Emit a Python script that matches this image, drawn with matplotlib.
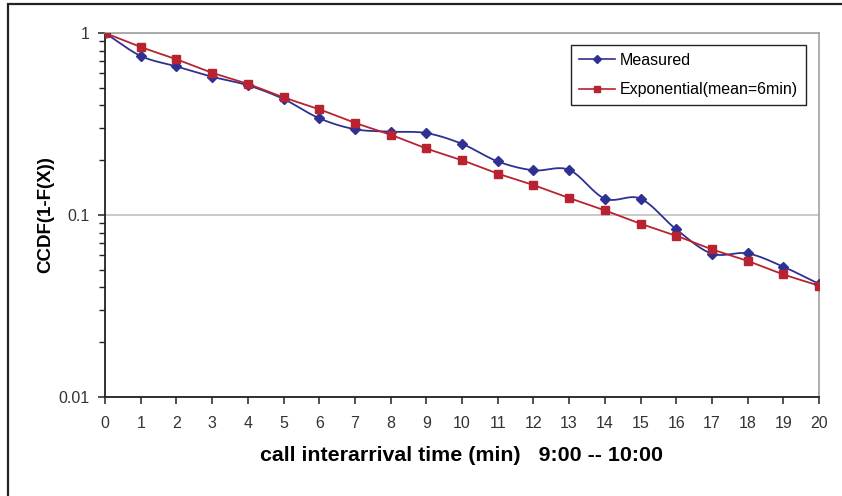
import numpy as np
import matplotlib
matplotlib.use("Agg")
import matplotlib.pyplot as plt
from matplotlib.patches import Rectangle
from matplotlib.ticker import LogLocator, FixedLocator, NullFormatter

plt.rcParams["font.family"] = ["Liberation Sans", "DejaVu Sans"]

# data
minutes = list(range(0, 21))
measured = [1.0, 0.748, 0.655, 0.575, 0.516, 0.434, 0.340, 0.296, 0.287, 0.282,
            0.246, 0.197, 0.176, 0.177, 0.123, 0.123, 0.0834, 0.0613, 0.0615,
            0.052, 0.0418]
exponential = [1.0, 0.838, 0.717, 0.605, 0.525, 0.443, 0.381, 0.321, 0.276, 0.232,
               0.200, 0.169, 0.146, 0.124, 0.106, 0.0896, 0.0769, 0.0648, 0.0559,
               0.0472, 0.0409]
y_ticks = [0.01, 0.1, 1]
y_ticklabels = ["0.01", "0.1", "1"]

BLUE = "#2e3192"
RED = "#b8232f"


def smooth(x, y, n=20):
    """Catmull-Rom smoothing in (x, log y) space, like Excel's smoothed lines."""
    x = np.asarray(x, float)
    ly = np.log10(np.asarray(y, float))
    px = np.concatenate([[2 * x[0] - x[1]], x, [2 * x[-1] - x[-2]]])
    py = np.concatenate([[2 * ly[0] - ly[1]], ly, [2 * ly[-1] - ly[-2]]])
    xs, ys = [], []
    t = np.linspace(0, 1, n, endpoint=False)
    for i in range(1, len(px) - 2):
        for arr, out in ((px, xs), (py, ys)):
            p0, p1, p2, p3 = arr[i - 1], arr[i], arr[i + 1], arr[i + 2]
            out.extend(0.5 * ((2 * p1) + (-p0 + p2) * t
                              + (2 * p0 - 5 * p1 + 4 * p2 - p3) * t ** 2
                              + (-p0 + 3 * p1 - 3 * p2 + p3) * t ** 3))
    xs.append(x[-1])
    ys.append(ly[-1])
    return np.array(xs), 10 ** np.array(ys)


fig = plt.figure(figsize=(8.42, 4.96), dpi=100)
ax = fig.add_axes([105 / 842, 1 - 397 / 496, 714 / 842, 364 / 496])

# outer frame (only top and left edges visible in the reference)
fig.patches.append(Rectangle((8 / 842, -0.2), 1.5, 1.2 - 4 / 496, transform=fig.transFigure,
                             fill=False, edgecolor="#222222", linewidth=1.6))

sx, sy = smooth(minutes, measured)
ax.plot(sx, sy, color=BLUE, linewidth=1.3, zorder=3)
ax.plot(minutes, measured, linestyle="none", marker="D", markersize=5,
        color=BLUE, zorder=4)
ex, ey = smooth(minutes, exponential)
ax.plot(ex, ey, color=RED, linewidth=1.3, zorder=3)
ax.plot(minutes, exponential, linestyle="none", marker="s", markersize=6,
        color=RED, zorder=4)

# legend proxies
ax.plot([], [], color=BLUE, marker="D", markersize=4, linewidth=1.2, label="Measured")
ax.plot([], [], color=RED, marker="s", markersize=5, linewidth=1.2,
        label="Exponential(mean=6min)")
handles, labels = ax.get_legend_handles_labels()
leg = ax.legend(handles[-2:], labels[-2:], loc="upper right", bbox_to_anchor=(0.982, 0.967),
                borderaxespad=0, fancybox=False, framealpha=1, edgecolor="#222222",
                fontsize=11.5, handlelength=2.25, handletextpad=0.3, labelspacing=0.9,
                borderpad=0.5)
leg.get_frame().set_linewidth(1.0)

ax.set_yscale("log")
ax.set_ylim(0.01, 1)
ax.set_xlim(0, 20)
ax.yaxis.set_major_locator(FixedLocator(y_ticks))
ax.set_yticklabels(y_ticklabels)
ax.yaxis.set_minor_locator(LogLocator(base=10, subs=np.arange(2, 10)))
ax.yaxis.set_minor_formatter(NullFormatter())
ax.set_xticks(minutes)
ax.set_xticklabels([str(m) for m in minutes])

ax.grid(axis="y", which="major", color="#c0c0c0", linewidth=1.2)
ax.set_axisbelow(True)
for side in ("top", "right"):
    ax.spines[side].set_color("#a0a0a0")
    ax.spines[side].set_linewidth(1.2)
for side in ("left", "bottom"):
    ax.spines[side].set_color("#222222")
    ax.spines[side].set_linewidth(1.3)

ax.tick_params(axis="both", which="major", direction="out", length=5, width=1.1,
               color="#222222", labelsize=11.5, labelcolor="#333333")
ax.tick_params(axis="x", pad=8.5)
ax.tick_params(axis="y", pad=6)
ax.tick_params(axis="y", which="minor", direction="out", length=4, width=1.0, color="#222222")

ax.set_xlabel("call interarrival time (min)   9:00 -- 10:00", fontsize=15.4,
              fontweight="bold", labelpad=11)
ax.set_ylabel("CCDF(1-F(X))", fontsize=13.5, fontweight="bold", labelpad=3)

fig.savefig("out.png", dpi=100)
